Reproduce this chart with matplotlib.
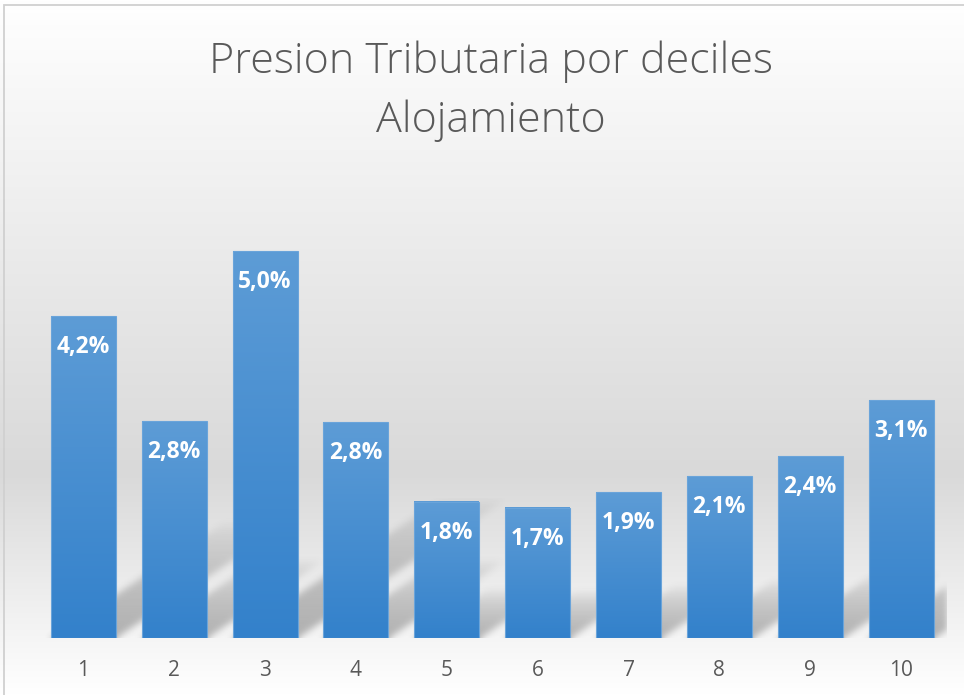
import numpy as np
import matplotlib
matplotlib.use('Agg')
import matplotlib.pyplot as plt
from matplotlib.colors import LinearSegmentedColormap
from matplotlib.patches import Rectangle

# ---- data ----
deciles = ['1', '2', '3', '4', '5', '6', '7', '8', '9', '10']
presion = [4.16, 2.80, 5.00, 2.79, 1.76, 1.68, 1.88, 2.09, 2.35, 3.07]
title_lines = ['Presion Tributaria por deciles', 'Alojamiento']

W, H = 964, 695
fig = plt.figure(figsize=(W / 100, H / 100), dpi=100)
fig.patch.set_facecolor('white')

# ---- background gradient (white -> grey -> white) ----
bg = fig.add_axes([0, 0, 1, 1], zorder=-10)
t = np.linspace(0, 1, 500)
g = np.interp(t, [0, 0.68, 1.0], [1.0, 0.851, 1.0])
img = np.repeat(g[:, None], 4, axis=1)
bg.imshow(np.dstack([img, img, img]), extent=[0, 1, 0, 1], origin='upper', aspect='auto')
bg.set_xlim(0, 1)
bg.set_ylim(0, 1)
bg.axis('off')

# chart border (only left / top visible)
fig.add_artist(Rectangle((4 / W, -10 / H), 980 / W, (H - 5 + 10) / H,
                         transform=fig.transFigure, fill=False, ec='#d0d0d0', lw=1.3))

# ---- main axes ----
base_px = 638
top_px = 180
ax_w_px = 908.5
ax = fig.add_axes([38 / W, 1 - base_px / H, ax_w_px / W, (base_px - top_px) / H])
ax.set_facecolor('none')
px_per_unit = 77.4
ymax = (base_px - top_px) / px_per_unit
ax.set_xlim(0.5, 10.5)
ax.set_ylim(0, ymax)

x = np.arange(1, len(presion) + 1)
bw = 0.715
px_per_x = ax_w_px / 10.0

# ---- perspective shadow (sheared copies of the bars) ----
nx, ny = int(ax_w_px), 140
xpx = np.arange(nx) + 0.5
ypx = np.arange(ny) + 0.5
Xp, Yp = np.meshgrid(xpx, ypx)
slope = 1.5
inten = np.zeros_like(Xp)
for xi, v in zip(x, presion):
    xl = (xi - bw / 2 - 0.5) * px_per_x
    xr = (xi + bw / 2 - 0.5) * px_per_x
    hs = 0.36 * v * px_per_unit
    xx = Xp - slope * Yp
    inside = (xx >= xl) & (xx <= xr) & (Yp <= hs)
    f = np.clip(1 - Yp / hs, 0, 1) ** 0.6
    inten = np.maximum(inten, inside * f)
inten *= 0.38
k = np.exp(-0.5 * (np.arange(-12, 13) / 3.5) ** 2)
k /= k.sum()
pad = 15
big = np.pad(inten, ((pad, 0), (0, 0)), mode='edge')
big = np.apply_along_axis(lambda r: np.convolve(r, k, mode='same'), 1, big)
big = np.apply_along_axis(lambda c: np.convolve(c, k, mode='same'), 0, big)
inten = big[pad:]
rgba = np.zeros((ny, nx, 4))
rgba[..., :3] = 0.25
rgba[..., 3] = inten
ax.imshow(rgba, extent=[0.5, 10.5, 0, ny / px_per_unit], origin='lower',
          aspect='auto', zorder=1, interpolation='bilinear')

# ---- bars with vertical gradient ----
cmap = LinearSegmentedColormap.from_list('bar', ['#3381cb', '#5d9cd6'])
grad = np.linspace(0, 1, 256)[:, None]
for xi, v in zip(x, presion):
    ax.imshow(grad, extent=[xi - bw / 2, xi + bw / 2, 0, v], origin='lower',
              cmap=cmap, aspect='auto', zorder=3)
    ax.add_patch(Rectangle((xi - bw / 2, 0), bw, v, fill=False, ec='#6aa4da', lw=0.8, zorder=4))
    lab = f'{v:.1f}'.replace('.', ',') + '%'
    ax.annotate(lab, (xi, v), xytext=(0, -31), textcoords='offset pixels',
                ha='center', va='center', color='white', fontsize=16.5,
                fontweight='bold', family='Open Sans', zorder=5)

ax.set_xlim(0.5, 10.5)
ax.set_ylim(0, ymax)
ax.set_xticks(x)
ax.set_xticklabels(deciles, fontsize=15, color='#595959', family='Open Sans')
ax.tick_params(axis='x', length=0, pad=16)
ax.set_yticks([])
for s in ax.spines.values():
    s.set_visible(False)

tx = 491 / W
fig.text(tx, 1 - 73 / H, title_lines[0], ha='center', va='baseline',
         fontsize=31, color='#595959', family='Open Sans', fontweight='light')
fig.text(tx, 1 - 132 / H, title_lines[1], ha='center', va='baseline',
         fontsize=31, color='#595959', family='Open Sans', fontweight='light')

fig.savefig('out.png', dpi=100)
